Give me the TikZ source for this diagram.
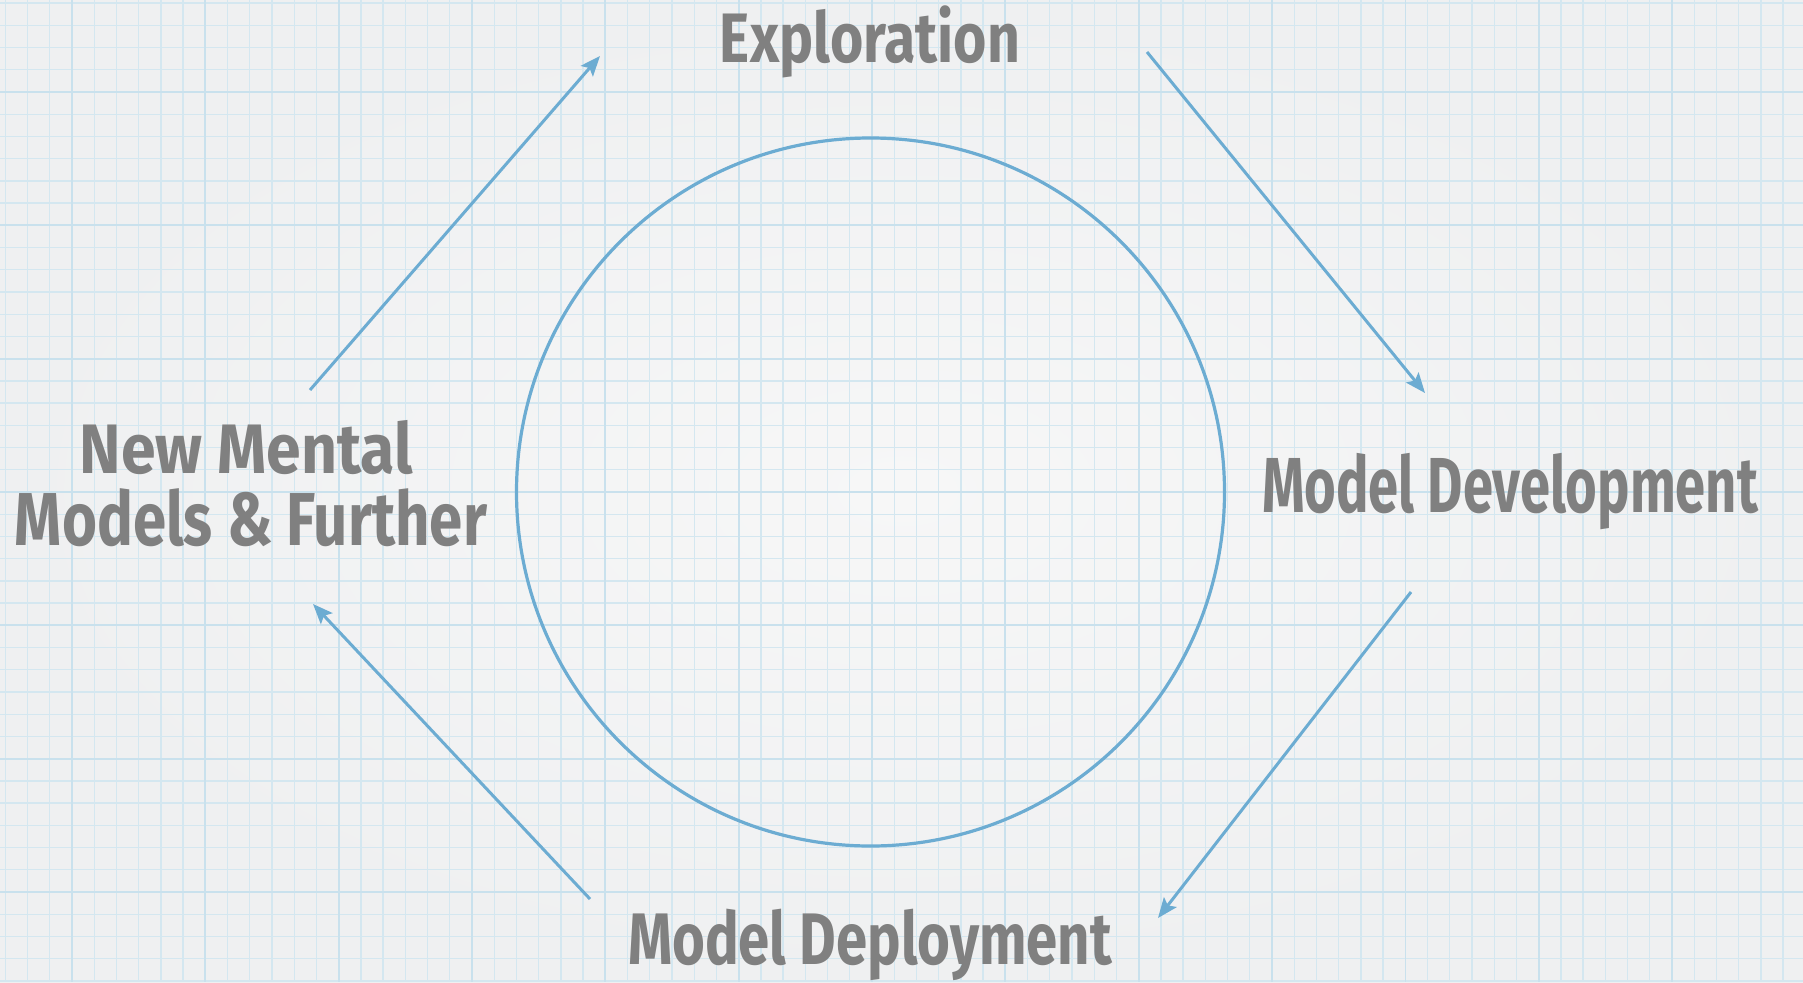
\documentclass[tikz,border=0pt]{standalone}
\usepackage{fontspec}
\usepackage{graphicx}
\setmainfont{Fira Sans}
\usetikzlibrary{arrows.meta}

\definecolor{paper}{RGB}{247,247,247}
\definecolor{paperedge}{RGB}{239,240,241}
\definecolor{gridminor}{RGB}{212,231,240}
\definecolor{gridmajor}{RGB}{201,225,237}
\definecolor{cyclecol}{RGB}{108,172,210}
\definecolor{txtgray}{RGB}{128,128,128}

% label text: font size, target width, content
\newcommand\cyclabel[3]{\resizebox{#2pt}{\height}{\fontsize{#1}{#1}\selectfont\bfseries #3}}

\tikzset{
  lbl/.style={text=txtgray, anchor=base, inner sep=0pt},
  flow/.style={draw=cyclecol, line width=3pt,
    -{Stealth[length=20pt,width=16pt,inset=4pt]}},
  ring/.style={draw=cyclecol, line width=3.2pt},
  minorline/.style={draw=gridminor, line width=1.4pt},
  majorline/.style={draw=gridmajor, line width=1.7pt},
}

\begin{document}
\begin{tikzpicture}[x=1pt,y=-1pt]
  % paper background
  \useasboundingbox (0,0) rectangle (1803,982);
  \shade[inner color=paper, outer color=paperedge] (0,0) rectangle (1803,982);

  % squared grid, minor lines every 22.22, major every sixth
  \foreach \k in {0,...,81} {
    \draw[minorline] ({5.33+\k*22.222},0) -- ({5.33+\k*22.222},982);
  }
  \foreach \k in {0,...,44} {
    \draw[minorline] (0,{3.1+\k*22.222}) -- (1803,{3.1+\k*22.222});
  }
  \foreach \k in {0,...,13} {
    \draw[majorline] ({72+\k*133.333},0) -- ({72+\k*133.333},982);
  }
  \foreach \k in {0,...,7} {
    \draw[majorline] (0,{92+\k*133.333}) -- (1803,{92+\k*133.333});
  }

  % central cycle ring
  \node[ring, circle, minimum size=708pt, inner sep=0pt] (ring) at (870.5,492) {};

  % stage labels
  \node[lbl] (explore) at (870,63) {\cyclabel{70}{300}{Exploration}};
  \node[lbl] (develop) at (1510,512) {\cyclabel{78}{496}{Model Development}};
  \node[lbl] (deploy) at (870,964) {\cyclabel{73}{484}{Model Deployment}};
  \node[lbl] (newmm1) at (246.5,473) {\cyclabel{70}{333}{New Mental}};
  \node[lbl] (newmm2) at (251,545) {\cyclabel{75}{472}{Models \& Further}};

  % arrow end points between the stages
  \coordinate (a1s) at (310,390);  \coordinate (a1e) at (600,56);
  \coordinate (a2s) at (1147,52);  \coordinate (a2e) at (1425,393);
  \coordinate (a3s) at (1411,592); \coordinate (a3e) at (1158,918);
  \coordinate (a4s) at (590,899);  \coordinate (a4e) at (313,604);

  \draw[flow] (a1s) -- (a1e);
  \draw[flow] (a2s) -- (a2e);
  \draw[flow] (a3s) -- (a3e);
  \draw[flow] (a4s) -- (a4e);
\end{tikzpicture}
\end{document}
